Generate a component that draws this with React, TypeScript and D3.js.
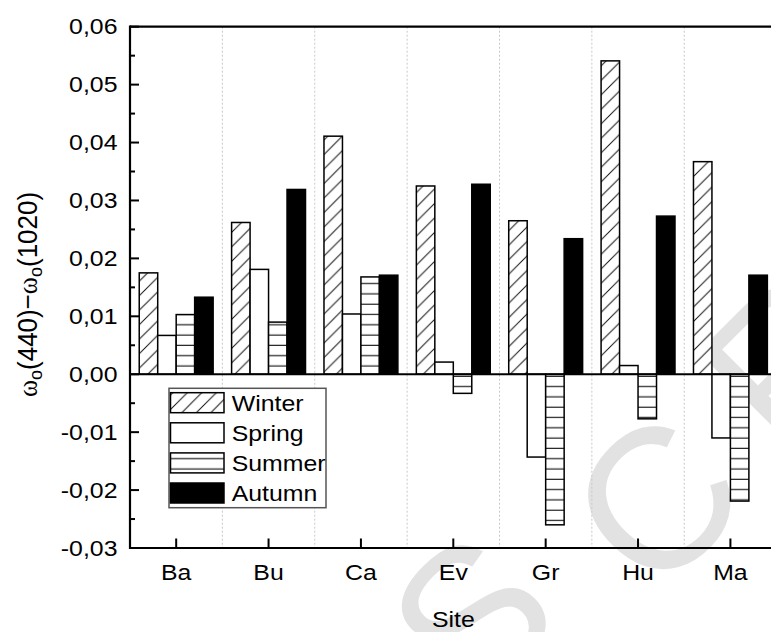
import React from "react";
import * as d3 from "d3";

const sites = ["Ba", "Bu", "Ca", "Ev", "Gr", "Hu", "Ma"];
const seasons = ["Winter", "Spring", "Summer", "Autumn"];
const winter = [0.0175, 0.0262, 0.0411, 0.0325, 0.0265, 0.0541, 0.0367];
const spring = [0.0067, 0.0181, 0.0104, 0.0021, -0.0143, 0.0015, -0.011];
const summer = [0.0103, 0.009, 0.0168, -0.0033, -0.026, -0.0077, -0.0219];
const autumn = [0.0133, 0.0319, 0.0171, 0.0328, 0.0234, 0.0273, 0.0171];
const yTicks = [-0.03, -0.02, -0.01, 0, 0.01, 0.02, 0.03, 0.04, 0.05, 0.06];
const seriesValues = [winter, spring, summer, autumn];

const W = 771;
const H = 632;
const L = 130;
const R = 776.6;
const T = 26.7;
const B = 548;
const SX = 1.13;
const FONT = "'Liberation Sans', Arial, sans-serif";

const fillFor = (s: string) =>
  s === "Winter" ? "url(#diag)" : s === "Spring" ? "#fff" : s === "Summer" ? "url(#horiz)" : "#000";

const fmt = (v: number) =>
  (v < 0 ? "-" : "") + Math.abs(v).toFixed(2).replace(".", ",");

function STxt({ x, y, anchor = "start", size = 22, children }: any) {
  return (
    <text
      transform={`translate(${x},${y}) scale(${SX},1)`}
      textAnchor={anchor}
      fontFamily={FONT}
      fontSize={size}
      fill="#000"
    >
      {children}
    </text>
  );
}

export default function App() {
  const x = d3.scaleBand<string>().domain(sites).range([L, R]).paddingInner(0).paddingOuter(0);
  const xs = d3
    .scaleBand<string>()
    .domain(seasons)
    .range([0, x.bandwidth()])
    .paddingInner(0)
    .paddingOuter(0.5);
  const y = d3.scaleLinear().domain([-0.03, 0.06]).range([B, T]);
  const minor = d3.range(-0.025, 0.06, 0.01);

  const legendRows = seasons.map((s, i) => ({ s, top: 392.7 + i * 30.1 }));

  return (
    <svg
      width={W}
      height={H}
      style={{ position: "fixed", left: 0, top: 0, background: "#fff" }}
    >
      <defs>
        <pattern id="diag" patternUnits="userSpaceOnUse" width={14.5} height={14.5}>
          <rect width={14.5} height={14.5} fill="#fff" />
          <path d="M-2,16.5 L16.5,-2 M-2,2 L2,-2 M12.5,16.5 L16.5,12.5" stroke="#111" strokeWidth={1} />
        </pattern>
        <pattern id="horiz" patternUnits="userSpaceOnUse" width={20} height={10.3} y={0.5}>
          <rect width={20} height={10.3} fill="#fff" />
          <line x1={0} x2={20} y1={5} y2={5} stroke="#222" strokeWidth={1.2} />
        </pattern>
      </defs>

      {/* watermark */}
      <g fill="#e2e2e2" fontFamily={FONT} fontSize={200}>
        <text transform="translate(521,666) rotate(-45)" textAnchor="middle">S</text>
        <text transform="translate(705,550) rotate(-45)" textAnchor="middle">C</text>
        <text transform="translate(835,410) rotate(-45)" textAnchor="middle">R</text>
      </g>

      {/* band separators */}
      {sites.slice(1).map((s) => (
        <line
          key={s}
          x1={x(s)!}
          x2={x(s)!}
          y1={T}
          y2={B}
          stroke="#c8c8c8"
          strokeWidth={1}
          strokeDasharray="2,2"
        />
      ))}

      {/* bars */}
      {sites.map((site, i) =>
        seasons.map((s, j) => {
          const v = seriesValues[j][i];
          const bx = x(site)! + xs(s)!;
          const y0 = y(Math.max(0, v));
          const h = Math.abs(y(v) - y(0));
          return (
            <rect
              key={site + s}
              x={bx}
              y={y0}
              width={xs.bandwidth()}
              height={h}
              fill={fillFor(s)}
              stroke="#000"
              strokeWidth={1.5}
            />
          );
        })
      )}

      {/* zero line */}
      <line x1={L} x2={W} y1={y(0)} y2={y(0)} stroke="#000" strokeWidth={2} />

      {/* frame */}
      <line x1={L} x2={W} y1={T} y2={T} stroke="#000" strokeWidth={2.2} />
      <line x1={L} x2={W} y1={B} y2={B} stroke="#000" strokeWidth={2.2} />
      <line x1={L} x2={L} y1={T - 1.1} y2={B + 1.1} stroke="#000" strokeWidth={2.2} />

      {/* y ticks */}
      {yTicks.map((t) => (
        <g key={t}>
          <line x1={L} x2={L + 9} y1={y(t)} y2={y(t)} stroke="#000" strokeWidth={2} />
          <STxt x={117.5} y={y(t) + 7.5} anchor="end">
            {fmt(t)}
          </STxt>
        </g>
      ))}
      {minor.map((t) => (
        <line key={t} x1={L} x2={L + 5} y1={y(t)} y2={y(t)} stroke="#000" strokeWidth={2} />
      ))}

      {/* x ticks */}
      {sites.map((s) => {
        const cx = x(s)! + x.bandwidth() / 2;
        return (
          <g key={s}>
            <line x1={cx} x2={cx} y1={B} y2={B - 9.5} stroke="#000" strokeWidth={2} />
            <STxt x={cx} y={579.5} anchor="middle">
              {s}
            </STxt>
          </g>
        );
      })}

      <STxt x={(L + R) / 2} y={627} anchor="middle">
        Site
      </STxt>

      {/* y label */}
      <text
        transform={`translate(37,294.5) scale(1.05,1) rotate(-90)`}
        textAnchor="middle"
        fontFamily={FONT}
        fontSize={26}
        fill="#000"
      >
        <tspan fontFamily="'Liberation Serif', 'DejaVu Serif', serif">ω</tspan>
        <tspan fontSize={18} dy={5}>o</tspan>
        <tspan dy={-5}>(440)−</tspan>
        <tspan fontFamily="'Liberation Serif', 'DejaVu Serif', serif">ω</tspan>
        <tspan fontSize={18} dy={5}>o</tspan>
        <tspan dy={-5}>(1020)</tspan>
      </text>

      {/* legend */}
      <rect x={169} y={388.3} width={157} height={119.4} fill="#fff" stroke="#555" strokeWidth={1.5} />
      {legendRows.map(({ s, top }) => (
        <g key={s}>
          <rect
            x={170.5}
            y={top}
            width={53.5}
            height={20}
            fill={fillFor(s)}
            stroke="#000"
            strokeWidth={1.5}
          />
          <STxt x={231.7} y={top + 18.3}>
            {s}
          </STxt>
        </g>
      ))}
    </svg>
  );
}
